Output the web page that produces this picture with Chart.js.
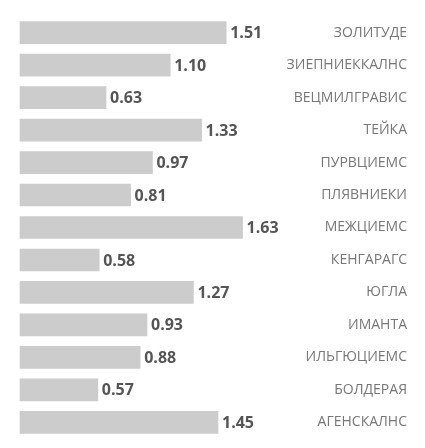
<!DOCTYPE html>
<html>
<head>
<meta charset="utf-8">
<script src="https://cdn.jsdelivr.net/npm/chart.js@4"></script>
<style>
  html, body { margin: 0; padding: 0; overflow: hidden; background: #fff; }
  #box { width: 425px; height: 455px; }
</style>
</head>
<body>
<div id="box"><canvas id="barchart"></canvas></div>
<script>
const districts = [
  "ЗОЛИТУДЕ", "ЗИЕПНИЕККАЛНС", "ВЕЦМИЛГРАВИС", "ТЕЙКА", "ПУРВЦИЕМС",
  "ПЛЯВНИЕКИ", "МЕЖЦИЕМС", "КЕНГАРАГС", "ЮГЛА", "ИМАНТА",
  "ИЛЬГЮЦИЕМС", "БОЛДЕРАЯ", "АГЕНСКАЛНС"
];
const values = [1.51, 1.10, 0.63, 1.33, 0.97, 0.81, 1.63, 0.58, 1.27, 0.93, 0.88, 0.57, 1.45];

// numbers after the end of each bar
const valueLabels = {
  id: "valueLabels",
  afterDatasetsDraw(chart) {
    const ctx = chart.ctx;
    const meta = chart.getDatasetMeta(0);
    ctx.save();
    ctx.font = "bold 16px 'Open Sans'";
    ctx.fillStyle = "#555";
    ctx.textBaseline = "middle";
    ctx.textAlign = "left";
    meta.data.forEach(function (bar, i) {
      ctx.fillText(values[i].toFixed(2), bar.x + 4, bar.y + 1);
    });
    ctx.restore();
  }
};

new Chart(document.getElementById("barchart"), {
  type: "bar",
  data: {
    labels: districts,
    datasets: [
      {
        data: values,
        backgroundColor: "#cccccc",
        barThickness: 22,
        clip: false,
      },
    ],
  },
  options: {
    indexAxis: "y",
    responsive: true,
    maintainAspectRatio: false,
    animation: false,
    layout: { padding: { left: 20, right: 18, top: 0, bottom: 0 } },
    plugins: { legend: { display: false }, tooltip: { enabled: false } },
    scales: {
      x: { display: false, min: 0, max: 1.835 },
      y: {
        position: "right",
        grid: { display: false, drawTicks: false },
        border: { display: false },
        ticks: {
          crossAlign: "far",
          padding: 8,
          color: "#777",
          font: { family: "'Open Sans'", size: 14 },
        },
      },
    },
  },
  plugins: [valueLabels],
});
</script>
</body>
</html>
